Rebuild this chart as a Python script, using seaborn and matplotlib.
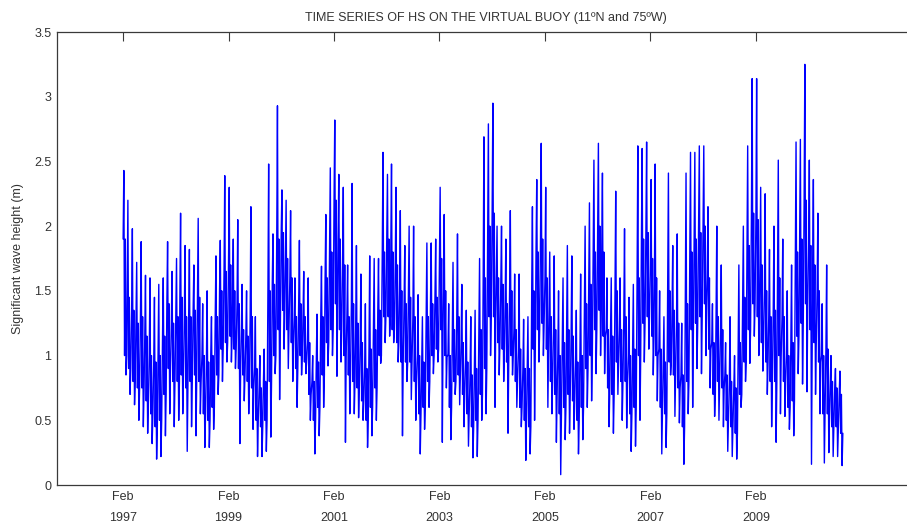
import pandas as pd
import matplotlib
matplotlib.use('Agg')
import matplotlib.pyplot as plt
import matplotlib.dates as mdates
import seaborn as sns

# monthly envelope of Hs (m), Feb 1997 .. Sep 2010
# one row per calendar year
hs_max = [
    2.43, 2.20, 1.98, 1.72, 1.88, 1.62, 1.60, 1.45, 1.55, 1.60, 1.88,
    1.65, 1.75, 2.10, 1.85, 1.82, 1.70, 2.06, 1.40, 1.50, 1.30, 1.77, 1.89,
    2.39, 2.30, 1.90, 2.05, 1.55, 1.50, 2.15, 1.30, 1.00, 1.05, 2.48, 1.94,
    2.93, 2.28, 2.20, 2.12, 1.60, 1.89, 1.65, 1.60, 1.00, 1.32, 1.69, 2.09,
    2.45, 2.82, 2.40, 2.30, 1.70, 2.33, 1.85, 1.63, 1.40, 1.77, 1.75, 1.75,
    2.57, 2.40, 2.48, 2.30, 2.12, 1.85, 2.00, 2.00, 1.47, 1.30, 1.87, 1.87,
    1.90, 2.30, 2.09, 1.40, 1.72, 1.94, 1.55, 1.35, 1.30, 1.35, 1.75, 2.69,
    2.79, 2.95, 2.00, 2.00, 1.90, 2.12, 1.63, 1.63, 1.28, 1.30, 2.15, 2.36,
    2.64, 2.30, 1.80, 1.77, 1.50, 1.60, 1.85, 1.77, 1.35, 1.63, 2.00, 2.18,
    2.51, 2.64, 2.41, 1.60, 1.60, 2.27, 1.60, 1.98, 1.45, 1.55, 2.62, 2.60,
    2.65, 2.36, 2.48, 1.50, 1.30, 2.41, 1.85, 1.94, 1.25, 2.41, 2.57, 2.57,
    2.62, 2.62, 2.15, 1.40, 2.00, 1.70, 1.10, 1.30, 1.00, 1.70, 2.00, 2.62,
    3.14, 3.14, 2.30, 2.25, 1.82, 2.00, 2.51, 1.90, 1.50, 1.70, 2.65, 2.67,
    3.25, 2.51, 2.36, 2.10, 1.40, 1.70, 1.00, 0.90, 0.88,
]
hs_upper = [
    1.90, 1.45, 1.35, 1.25, 1.30, 1.15, 1.00, 0.95, 1.00, 1.15, 1.40,
    1.25, 1.30, 1.45, 1.30, 1.30, 1.35, 1.45, 1.00, 0.95, 1.00, 1.30, 1.50,
    1.65, 1.70, 1.50, 1.40, 1.20, 1.15, 1.30, 0.90, 0.75, 0.80, 1.50, 1.55,
    1.90, 1.95, 1.75, 1.60, 1.30, 1.40, 1.30, 1.10, 0.80, 0.95, 1.30, 1.60,
    1.80, 2.20, 1.90, 1.70, 1.30, 1.40, 1.25, 1.10, 0.90, 1.05, 1.20, 1.35,
    1.80, 1.90, 1.80, 1.70, 1.50, 1.40, 1.45, 1.30, 1.00, 0.95, 1.30, 1.40,
    1.45, 1.75, 1.50, 1.00, 1.20, 1.30, 1.10, 0.95, 0.85, 0.90, 1.20, 1.60,
    2.00, 2.10, 1.60, 1.55, 1.40, 1.50, 1.20, 1.05, 0.90, 0.90, 1.50, 1.80,
    1.90, 1.60, 1.30, 1.20, 1.00, 1.10, 1.20, 1.15, 0.95, 1.00, 1.40, 1.55,
    1.80, 2.00, 1.80, 1.20, 1.15, 1.50, 1.20, 1.30, 1.00, 1.05, 1.60, 1.90,
    1.95, 1.75, 1.60, 1.05, 0.95, 1.50, 1.35, 1.25, 0.85, 1.40, 1.80, 1.90,
    1.95, 2.00, 1.60, 1.10, 1.30, 1.20, 0.85, 0.80, 0.75, 1.10, 1.45, 1.85,
    2.10, 2.05, 1.70, 1.50, 1.30, 1.35, 1.60, 1.30, 1.00, 1.10, 1.80, 1.90,
    2.20, 1.85, 1.70, 1.50, 1.00, 1.05, 0.80, 0.75, 0.70,
]
hs_lower = [
    1.00, 0.90, 0.80, 0.75, 0.75, 0.65, 0.55, 0.45, 0.50, 0.70, 0.90,
    0.80, 0.80, 0.85, 0.75, 0.80, 0.85, 0.80, 0.55, 0.50, 0.60, 0.85, 1.05,
    1.10, 1.15, 1.05, 0.90, 0.85, 0.80, 0.75, 0.50, 0.45, 0.50, 0.80, 1.00,
    1.20, 1.35, 1.20, 1.10, 0.90, 1.00, 0.95, 0.70, 0.50, 0.60, 0.85, 1.10,
    1.20, 1.40, 1.20, 1.00, 0.85, 0.80, 0.75, 0.65, 0.50, 0.60, 0.75, 1.00,
    1.30, 1.30, 1.20, 1.10, 0.95, 0.95, 0.95, 0.80, 0.55, 0.60, 0.80, 1.00,
    1.05, 1.20, 1.00, 0.60, 0.80, 0.85, 0.70, 0.55, 0.45, 0.50, 0.70, 0.90,
    1.30, 1.30, 1.10, 1.05, 0.95, 1.00, 0.80, 0.60, 0.50, 0.45, 1.05, 1.20,
    1.25, 1.05, 0.80, 0.70, 0.55, 0.60, 0.70, 0.65, 0.50, 0.60, 0.90, 1.00,
    1.20, 1.35, 1.15, 0.75, 0.70, 0.95, 0.80, 0.80, 0.55, 0.60, 1.00, 1.25,
    1.30, 1.15, 1.00, 0.60, 0.55, 0.95, 0.85, 0.75, 0.45, 0.80, 1.20, 1.25,
    1.30, 1.40, 1.05, 0.70, 0.80, 0.75, 0.50, 0.45, 0.40, 0.70, 0.95, 1.20,
    1.40, 1.30, 1.10, 0.95, 0.80, 0.80, 1.00, 0.80, 0.60, 0.65, 1.15, 1.25,
    1.40, 1.20, 1.10, 0.95, 0.55, 0.55, 0.45, 0.45, 0.40,
]
hs_min = [
    0.85, 0.70, 0.62, 0.50, 0.45, 0.40, 0.32, 0.20, 0.22, 0.38, 0.55,
    0.45, 0.50, 0.55, 0.26, 0.45, 0.38, 0.55, 0.29, 0.29, 0.43, 0.70, 0.80,
    0.95, 0.95, 0.90, 0.32, 0.65, 0.55, 0.43, 0.22, 0.22, 0.26, 0.37, 0.86,
    0.66, 1.05, 0.90, 0.80, 0.60, 0.85, 0.86, 0.50, 0.24, 0.38, 0.60, 0.92,
    1.00, 0.84, 0.95, 0.33, 0.55, 0.55, 0.52, 0.50, 0.29, 0.38, 0.50, 0.94,
    1.10, 1.15, 1.10, 0.95, 0.38, 0.80, 0.66, 0.50, 0.24, 0.43, 0.60, 0.86,
    0.95, 0.33, 0.75, 0.35, 0.70, 0.62, 0.45, 0.30, 0.21, 0.22, 0.50, 0.55,
    1.00, 0.60, 0.85, 0.80, 0.40, 0.85, 0.60, 0.45, 0.19, 0.24, 0.50, 0.95,
    1.00, 0.60, 0.55, 0.33, 0.08, 0.35, 0.40, 0.43, 0.24, 0.35, 0.60, 0.65,
    0.86, 1.00, 0.86, 0.45, 0.40, 0.70, 0.50, 0.44, 0.26, 0.30, 0.50, 0.95,
    1.05, 0.85, 0.65, 0.24, 0.29, 0.85, 0.53, 0.48, 0.16, 0.55, 0.60, 0.90,
    0.86, 1.00, 0.75, 0.53, 0.50, 0.45, 0.26, 0.22, 0.20, 0.60, 0.80, 0.94,
    1.15, 1.00, 0.88, 0.70, 0.45, 0.33, 0.55, 0.53, 0.43, 0.38, 0.86, 0.78,
    0.72, 0.16, 0.70, 0.55, 0.17, 0.25, 0.22, 0.22, 0.15,
]

tick_years = [1997, 1999, 2001, 2003, 2005, 2007, 2009]
ytick_vals = [0, 0.5, 1, 1.5, 2, 2.5, 3, 3.5]
ytick_labels = ['0', '0.5', '1', '1.5', '2', '2.5', '3', '3.5']

# spread each month's envelope over the month: core, peak, core, dip
months = pd.date_range('1997-02-01', periods=len(hs_max), freq='MS')
rows = []
for m, top, hi, lo, bot in zip(months, hs_max, hs_upper, hs_lower, hs_min):
    for day, v in zip([0, 5, 10, 15, 20, 25], [hi, top, lo, hi, bot, lo]):
        rows.append((m + pd.Timedelta(days=day), v))
df = pd.DataFrame(rows, columns=['time', 'hs'])

sns.set_style('white')
plt.rcParams['font.family'] = ['Liberation Sans Narrow', 'Liberation Sans', 'DejaVu Sans']
txt = '#333333'

fig = plt.figure(figsize=(9.07, 5.24), dpi=100)
ax = fig.add_axes([57 / 907, 1 - 485 / 524, 857 / 907, (485 - 32) / 524])

sns.lineplot(data=df, x='time', y='hs', color='blue', linewidth=1.0,
             estimator=None, ax=ax)

ax.set_xlim(mdates.date2num(pd.Timestamp('1995-11-01')),
            mdates.date2num(pd.Timestamp('2012-02-01')))
ax.set_ylim(0, 3.5)
ax.set_xticks([mdates.date2num(pd.Timestamp(f'{y}-02-01')) for y in tick_years])
ax.set_xticklabels([f'Feb\n{y}' for y in tick_years], linespacing=2.1)
ax.set_yticks(ytick_vals)
ax.set_yticklabels(ytick_labels)

ax.tick_params(direction='in', length=6.2, width=0.8, top=True, right=False,
               labelsize=9, colors='#3a3a3a', labelcolor=txt, pad=4)
for s in ax.spines.values():
    s.set_color('#3a3a3a')
    s.set_linewidth(0.9)

ax.set_xlabel('')
ax.set_ylabel('Significant wave height (m)', fontsize=9, color=txt, labelpad=7)
ax.set_title('TIME SERIES OF HS ON THE VIRTUAL BUOY (11ºN and 75ºW)',
             fontsize=9, color=txt, pad=8)

fig.savefig('out.png', dpi=100, facecolor='white')
